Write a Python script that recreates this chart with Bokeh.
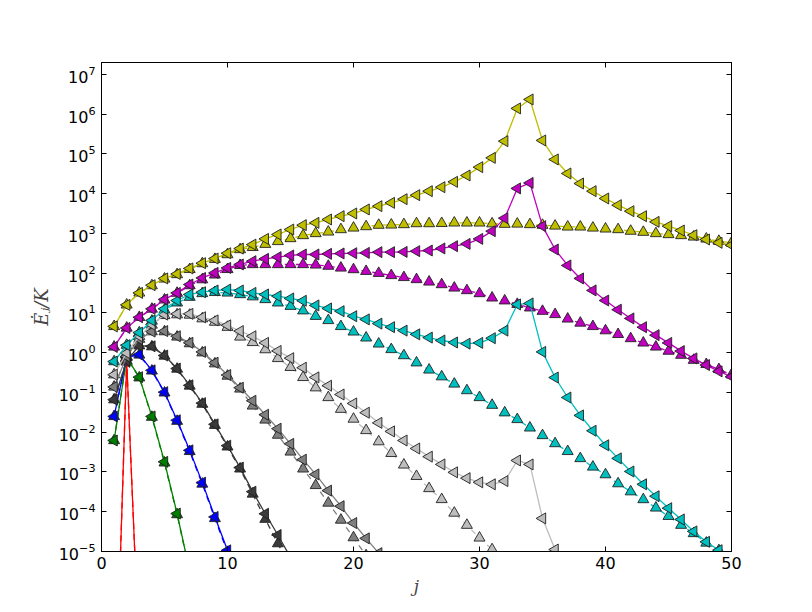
from math import pi
from bokeh.plotting import figure
from bokeh.models import Range1d, FixedTicker, LinearAxis, LogAxis
from bokeh.embed import file_html
from bokeh.resources import INLINE

# ---------------- data ----------------
x_ticks = [0, 10, 20, 30, 40, 50]
y_ticks = [1e-5, 1e-4, 1e-3, 1e-2, 1e-1, 1e0, 1e1, 1e2, 1e3, 1e4, 1e5, 1e6, 1e7]

red_left = [1e-10, 0.59, 2e-8]
red_up = [1e-10, 0.59, 2e-8]

green_left = [6.2e-3, 0.75, 0.243, 0.025, 1.8e-3, 9.0e-5, 3.2e-6]
green_up = [6.2e-3, 0.75, 0.235, 0.024, 1.7e-3, 8.5e-5, 3.0e-6]

blue_left = [0.025, 0.79, 0.90, 0.36, 0.102, 0.020, 3.5e-3, 5.4e-4, 7.4e-5, 1.07e-5, 1.4e-6]
blue_up = [0.025, 0.79, 0.88, 0.35, 0.098, 0.019, 3.3e-3, 5.0e-4, 6.8e-5, 9.6e-6, 1.2e-6]

dark_left = [0.066, 0.63, 1.51, 1.45, 0.85, 0.40, 0.151, 0.054, 0.0158, 4.6e-3,
             1.29e-3, 3.2e-4, 8.9e-5, 2.6e-5, 7.1e-6, 1.8e-6]
dark_up = [0.066, 0.63, 1.50, 1.42, 0.83, 0.39, 0.146, 0.051, 0.0150, 4.3e-3,
           1.2e-3, 2.8e-4, 6.5e-5, 1.58e-5, 4.0e-6]

mid_left = [0.138, 0.81, 2.2, 3.4, 3.5, 2.6, 1.78, 1.05, 0.56, 0.275,
            0.132, 0.062, 0.0275, 0.0123, 5.1e-3, 2.04e-3, 8.7e-4, 3.4e-4, 1.38e-4, 5.2e-5,
            2.14e-5, 9.1e-6, 3.5e-6]
mid_up = [0.138, 0.81, 2.2, 3.4, 3.4, 2.5, 1.7, 1.0, 0.53, 0.26,
          0.123, 0.046, 0.0204, 8.5e-3, 3.2e-3, 1.2e-3, 4.6e-4, 1.66e-4, 6.2e-5, 2.24e-5,
          7.9e-6, 2.8e-6]

light_left = [0.28, 0.98, 2.6, 5.1, 9.1, 9.5, 9.5, 7.8, 6.5, 4.9,
              3.5, 2.6, 1.77, 1.11, 0.73, 0.42, 0.24, 0.148, 0.089, 0.053,
              0.031, 0.0172, 0.0105, 6.2e-3, 3.9e-3, 2.43e-3, 1.55e-3, 9.8e-4, 7.0e-4, 5.5e-4,
              4.9e-4, 5.9e-4, 1.95e-3, 1.55e-3, 6.8e-5, 1.12e-5, 1.0e-6]
light_up = [0.28, 0.98, 2.6, 5.0, 8.7, 9.1, 8.9, 7.2, 5.9, 4.4,
            2.5, 1.82, 1.20, 0.72, 0.43, 0.24, 0.132, 0.075, 0.038, 0.0215,
            0.0111, 5.8e-3, 2.95e-3, 1.51e-3, 7.8e-4, 3.85e-4, 2.04e-4, 9.3e-5, 4.6e-5, 2.2e-5,
            1.12e-5, 5.0e-6]

cyan_left = [0.60, 1.55, 3.2, 6.5, 12.7, 20.6, 29.2, 33.3, 36.8, 38.9,
             36.8, 32.0, 29.2, 26.5, 23.2, 20.3, 15.5, 13.0, 11.1, 8.3,
             6.9, 5.4, 4.4, 3.6, 2.9, 2.4, 2.03, 1.81, 1.69, 1.77,
             2.32, 3.6, 16.4, 17.4, 1.05, 0.238, 0.0748, 0.0265, 0.0109, 4.7e-3,
             2.2e-3, 1.03e-3, 4.9e-4, 2.46e-4, 1.23e-4, 6.4e-5, 3.2e-5, 1.75e-5, 1.08e-5, 5.6e-6]
cyan_up = [0.60, 1.55, 3.2, 6.3, 12.0, 18.0, 25.0, 31.0, 33.0, 32.0,
           29.2, 25.7, 21.9, 18.0, 14.8, 11.4, 8.3, 6.5, 4.6, 3.35,
           2.37, 1.67, 1.21, 0.85, 0.56, 0.37, 0.25, 0.164, 0.112, 0.075,
           0.048, 0.031, 0.021, 0.0129, 8.3e-3, 5.2e-3, 3.3e-3, 2.19e-3, 1.34e-3, 8.6e-4,
           5.1e-4, 3.2e-4, 2.03e-4, 1.25e-4, 7.7e-5, 4.6e-5, 2.84e-5, 1.64e-5, 1.06e-5, 6.3e-6]

magenta_left = [1.4, 4.2, 7.8, 12.7, 21.9, 32.0, 52.0, 76.0, 102.0, 136.0,
                166.0, 201.0, 230.0, 254.0, 280.0, 296.0, 296.0, 307.0, 314.0, 319.0,
                325.0, 339.0, 339.0, 344.0, 359.0, 373.0, 420.0, 479.0, 547.0, 731.0,
                1143.0, 2427.0, 1.36e4, 1.87e4, 1528.0, 395.0, 157.0, 74.0, 37.0, 20.6,
                12.1, 7.3, 4.4, 2.77, 1.77, 1.10, 0.72, 0.49, 0.34, 0.25]
magenta_up = [1.4, 4.2, 7.8, 12.6, 21.4, 31.6, 49.0, 69.0, 91.0, 125.0,
              158.0, 166.0, 166.0, 166.0, 166.0, 166.0, 162.0, 151.0, 136.0, 124.0,
              112.0, 100.0, 88.0, 78.5, 69.7, 60.5, 52.0, 42.7, 36.8, 30.9,
              24.0, 20.3, 16.6, 13.5, 11.1, 9.2, 7.1, 5.6, 4.6, 3.6,
              2.9, 2.28, 1.77, 1.40, 1.10, 0.87, 0.65, 0.51, 0.38, 0.28]

yellow_left = [4.6, 16.0, 32.0, 50.0, 74.0, 96.0, 132.0, 179.0, 234.0, 319.0,
               417.0, 525.0, 731.0, 944.0, 1259.0, 1618.0, 1849.0, 2249.0, 2723.0, 3184.0,
               4018.0, 4864.0, 5888.0, 7295.0, 9204.0, 1.16e4, 1.46e4, 1.99e4, 2.88e4, 4.66e4,
               7.98e4, 2.10e5, 1.40e6, 2.35e6, 2.19e5, 7.28e4, 3.23e4, 1.81e4, 1.16e4, 7586.0,
               5152.0, 3639.0, 2723.0, 1959.0, 1528.0, 1189.0, 906.0, 706.0, 581.0, 508.0]
yellow_up = [4.6, 16.0, 32.0, 49.0, 72.0, 93.0, 125.0, 175.0, 225.0, 295.0,
             395.0, 447.0, 537.0, 631.0, 748.0, 891.0, 1000.0, 1096.0, 1259.0, 1380.0,
             1496.0, 1622.0, 1644.0, 1683.0, 1778.0, 1778.0, 1800.0, 1850.0, 1850.0, 1850.0,
             1762.0, 1714.0, 1738.0, 1683.0, 1622.0, 1549.0, 1466.0, 1466.0, 1380.0, 1306.0,
             1259.0, 1148.0, 1079.0, 1000.0, 944.0, 891.0, 820.0, 731.0, 640.0, 581.0]

series = [
    ("#ff0000", red_left, red_up),
    ("#008000", green_left, green_up),
    ("#0000ff", blue_left, blue_up),
    ("#3a3a3a", dark_left, dark_up),
    ("#7f7f7f", mid_left, mid_up),
    ("#bdbdbd", light_left, light_up),
    ("#00bfbf", cyan_left, cyan_up),
    ("#bf00bf", magenta_left, magenta_up),
    ("#bfbf00", yellow_left, yellow_up),
]

# ---------------- figure ----------------
p = figure(frame_width=630, frame_height=489,
           x_range=Range1d(0, 50), y_range=Range1d(1e-5, 2e7),
           y_axis_type="log", output_backend="svg", toolbar_location=None,
           min_border_left=101, min_border_right=69, min_border_top=62, min_border_bottom=49,
           background_fill_color="white", border_fill_color="white")
p.grid.visible = False
p.outline_line_color = "black"
p.outline_line_width = 1

FONT = "DejaVu Sans"

def style_axis(ax, show_labels=True):
    ax.major_tick_in = 5
    ax.major_tick_out = 0
    ax.minor_tick_line_color = None
    ax.axis_line_color = "black"
    ax.major_tick_line_color = "black"
    ax.major_label_text_font = FONT
    ax.major_label_text_font_size = "16px"
    ax.major_label_text_color = "black" if show_labels else None

p.xaxis.ticker = FixedTicker(ticks=x_ticks)
p.yaxis.ticker = FixedTicker(ticks=y_ticks)
style_axis(p.xaxis[0])
style_axis(p.yaxis[0])
p.xaxis.major_label_standoff = 5
p.yaxis.major_label_standoff = 6

p.xaxis.axis_label = "j"
p.xaxis.axis_label_text_font = "DejaVu Serif"
p.xaxis.axis_label_text_font_style = "italic"
p.xaxis.axis_label_text_font_size = "17px"
p.xaxis.axis_label_standoff = 4

p.yaxis.axis_label = "\u0116\u2c7c/K"
p.yaxis.axis_label_text_font = "DejaVu Serif"
p.yaxis.axis_label_text_font_style = "italic"
p.yaxis.axis_label_text_font_size = "18px"
p.yaxis.axis_label_standoff = 4

top = LinearAxis(ticker=FixedTicker(ticks=x_ticks))
style_axis(top, show_labels=False)
p.add_layout(top, "above")
right = LogAxis(ticker=FixedTicker(ticks=y_ticks))
style_axis(right, show_labels=False)
p.add_layout(right, "right")

MS = 11

# dashed "up" series first, then solid "left" series
for color, left_vals, up_vals in series:
    xs = list(range(1, len(up_vals) + 1))
    p.line(xs, up_vals, line_color=color, line_width=1.3, line_dash="6 5")
    p.scatter(xs, up_vals, marker="triangle", size=MS, fill_color=color,
              line_color="#202020", line_width=0.9)

for color, left_vals, up_vals in series:
    xs = list(range(1, len(left_vals) + 1))
    p.line(xs, left_vals, line_color=color, line_width=1.3)
    p.scatter(xs, left_vals, marker="triangle", size=MS, angle=pi / 2, fill_color=color,
              line_color="#202020", line_width=0.9)

open("out.html", "w").write(file_html(p, INLINE))
